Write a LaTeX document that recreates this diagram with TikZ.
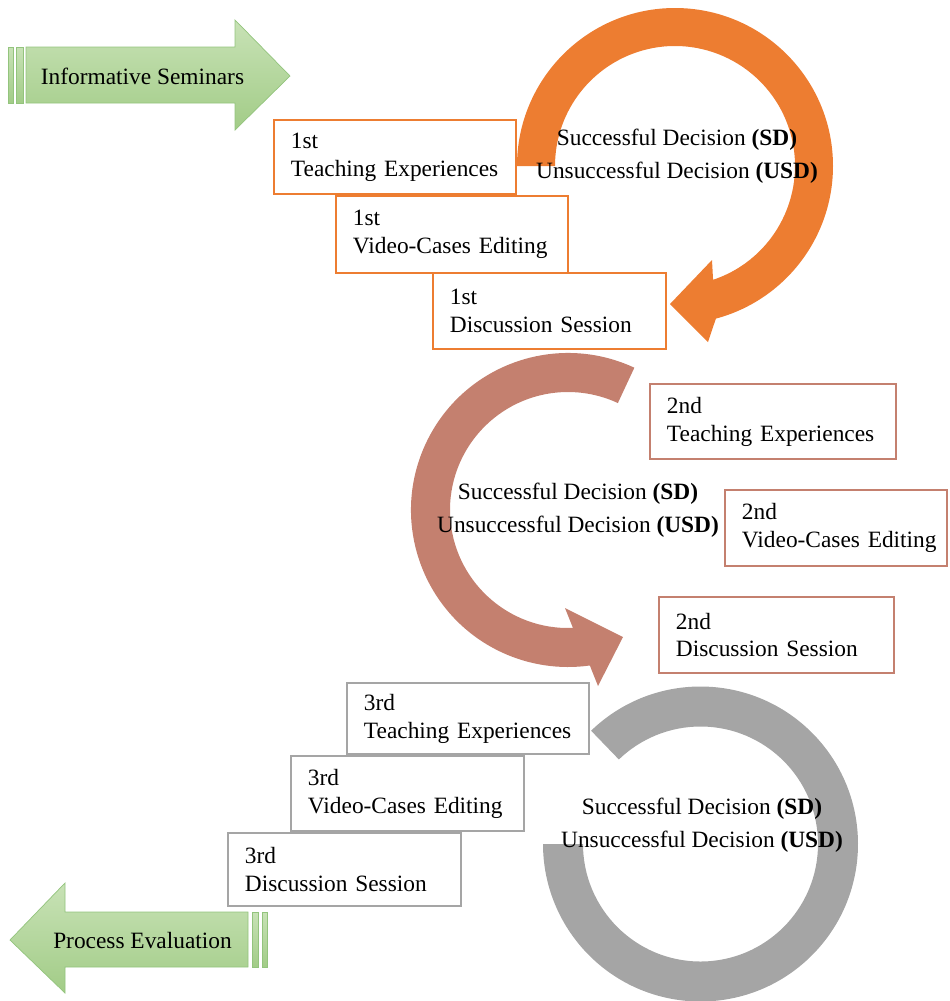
\documentclass[tikz,border=0pt]{standalone}
\usepackage{fontspec}
\setmainfont{Liberation Serif}
\definecolor{decorange}{HTML}{ED7D31}
\definecolor{decbrown}{HTML}{C4806F}
\definecolor{decgray}{HTML}{A5A5A5}
\definecolor{greenlight}{HTML}{C8E2B6}
\definecolor{greendark}{HTML}{A2CC87}
\definecolor{greenedge}{HTML}{93C47D}

\begin{document}
\begin{tikzpicture}[scale=1.0,
  font=\fontsize{13.3}{15.9}\selectfont,
  stagebox/.style={draw, fill=white, line width=1.1pt, anchor=north west,
    align=left, inner xsep=0.34cm, inner ysep=0pt},
  decision/.style={align=center, font=\fontsize{13.3}{18.7}\selectfont},
  greenarrow/.style={top color=greenlight, bottom color=greendark,
    draw=greenedge, line width=0.4pt}]
  \useasboundingbox (0,0) rectangle (18.98,-20.02);

  \shadedraw[greenarrow] (0.52,-0.94) -- (4.70,-0.94) -- (4.70,-0.40)
        -- (5.80,-1.52) -- (4.70,-2.60) -- (4.70,-2.06) -- (0.52,-2.06) -- cycle;
  \shadedraw[greenarrow] (0.16,-0.94) rectangle (0.26,-2.06);
  \shadedraw[greenarrow] (0.32,-0.94) rectangle (0.46,-2.06);
  \node (seminars) at (2.85,-1.52) {Informative Seminars};

  \shadedraw[greenarrow] (0.20,-18.80) -- (1.30,-17.66) -- (1.30,-18.24)
        -- (4.96,-18.24) -- (4.96,-19.34) -- (1.30,-19.34) -- (1.30,-19.86) -- cycle;
  \shadedraw[greenarrow] (5.04,-18.24) rectangle (5.16,-19.34);
  \shadedraw[greenarrow] (5.24,-18.24) rectangle (5.34,-19.34);
  \node (evaluation) at (2.85,-18.80) {Process Evaluation};

  \begin{scope}[shift={(13.50,-3.32)}]
    \fill[decorange] (180:3.16) arc[start angle=180,end angle=-75,radius=3.16]
          -- (0.66,-3.52) -- (-0.10,-2.76) -- (0.74,-1.88) -- (-71.5:2.40)
          arc[start angle=-71.5,end angle=180,radius=2.40] -- cycle;
  \end{scope}
  \begin{scope}[shift={(11.36,-10.20)}]
    \fill[decbrown] (65:3.14) arc[start angle=65,end angle=278,radius=3.14]
          -- (0.60,-3.52) -- (1.10,-2.54) -- (-0.06,-1.96) -- (272.4:2.36)
          arc[start angle=272.4,end angle=65,radius=2.36] -- cycle;
  \end{scope}
  \begin{scope}[shift={(14.01,-16.88)}]
    \fill[decgray] (134:3.15) arc[start angle=134,end angle=-180,radius=3.15]
          -- (180:2.35) arc[start angle=-180,end angle=134,radius=2.35] -- cycle;
  \end{scope}

  \node[decision] (dec1) at (13.54,-3.13)
        {Successful Decision \textbf{(SD)}\\Unsuccessful Decision \textbf{(USD)}};
  \node[decision] (dec2) at (11.56,-10.20)
        {Successful Decision \textbf{(SD)}\\Unsuccessful Decision \textbf{(USD)}};
  \node[decision] (dec3) at (14.04,-16.50)
        {Successful Decision \textbf{(SD)}\\Unsuccessful Decision \textbf{(USD)}};

  \node[stagebox,draw=decorange,text width=4.16cm,minimum height=1.48cm]
        (te1) at (5.46,-2.38) {1st\\Teaching Experiences};
  \node[stagebox,draw=decorange,text width=3.96cm,minimum height=1.54cm]
        (vce1) at (6.70,-3.90) {1st\\Video-Cases Editing};
  \node[stagebox,draw=decorange,text width=3.98cm,minimum height=1.52cm]
        (ds1) at (8.64,-5.44) {1st\\Discussion Session};

  \node[stagebox,draw=decbrown,text width=4.24cm,minimum height=1.50cm]
        (te2) at (12.98,-7.66) {2nd\\Teaching Experiences};
  \node[stagebox,draw=decbrown,text width=3.76cm,minimum height=1.52cm]
        (vce2) at (14.48,-9.78) {2nd\\\mbox{Video-Cases Editing}};
  \node[stagebox,draw=decbrown,text width=4.02cm,minimum height=1.52cm]
        (ds2) at (13.16,-11.92) {2nd\\Discussion Session};

  \node[stagebox,draw=decgray,text width=4.16cm,minimum height=1.42cm]
        (te3) at (6.92,-13.64) {3rd\\Teaching Experiences};
  \node[stagebox,draw=decgray,text width=3.98cm,minimum height=1.50cm]
        (vce3) at (5.80,-15.10) {3rd\\Video-Cases Editing};
  \node[stagebox,draw=decgray,text width=3.98cm,minimum height=1.46cm]
        (ds3) at (4.54,-16.64) {3rd\\Discussion Session};
\end{tikzpicture}
\end{document}
